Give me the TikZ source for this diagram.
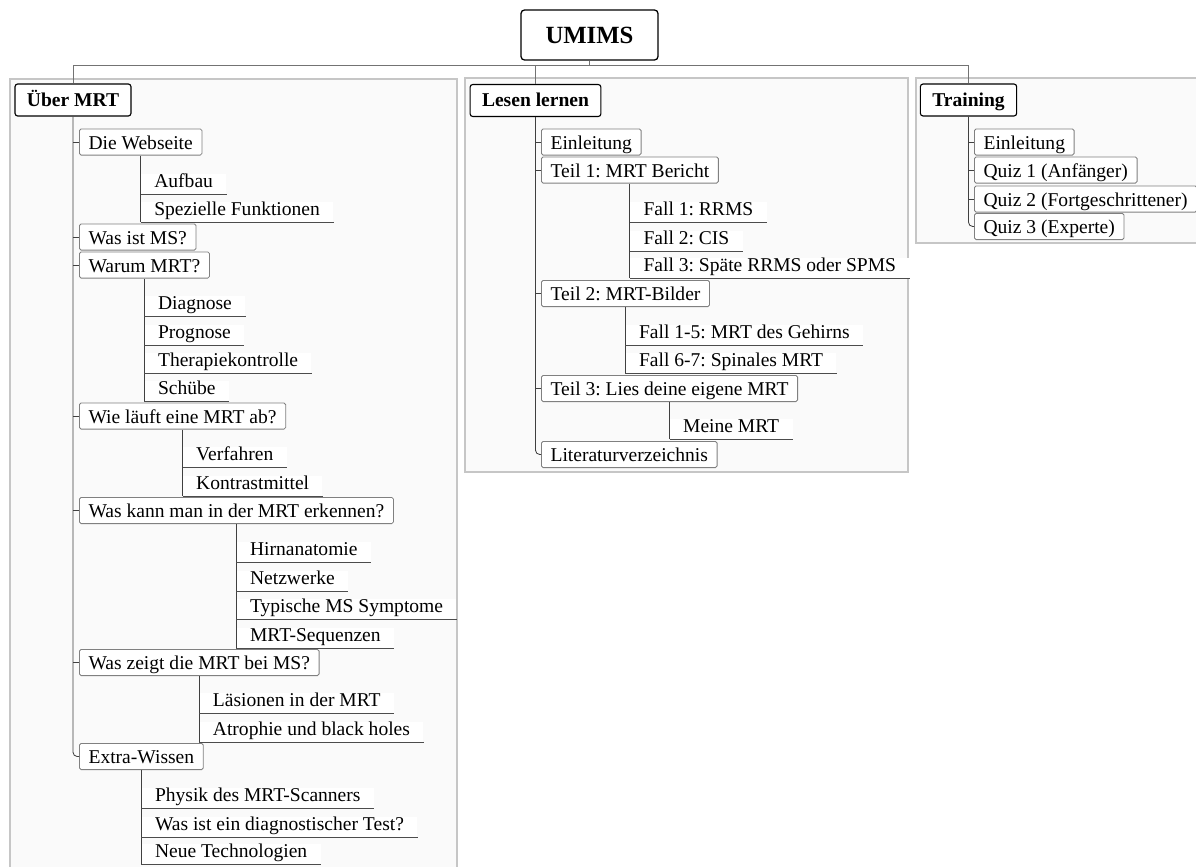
\documentclass[tikz,border=0pt]{standalone}
\usepackage{fontspec}
\setmainfont{Liberation Serif}
\usepackage{tikz}
\usetikzlibrary{positioning}
\definecolor{framefill}{HTML}{FAFAFA}
\definecolor{framedraw}{HTML}{C6C6C6}
\definecolor{boxdraw}{HTML}{808080}

\begin{document}
\frenchspacing
\fontsize{13.9}{16}\selectfont
\begin{tikzpicture}[
    x=0.025cm, y=-0.025cm,
    topbox/.style={rectangle, draw, rounded corners=2.5pt, line width=0.9pt, fill=white, minimum width=97.4pt, minimum height=35.6pt, text height=12pt, text depth=0.5pt, font=\fontsize{17.6}{20}\selectfont\bfseries},
    rootbox/.style={rectangle, draw, rounded corners=2pt, line width=0.8pt, fill=white, minimum height=22.8pt, inner xsep=8.5pt, text height=10.5pt, text depth=1.3pt, font=\bfseries},
    item/.style={rectangle, draw=boxdraw, rounded corners=1.2pt, line width=0.6pt, fill=white, anchor=west, inner xsep=6.5pt, inner ysep=2.2pt, text height=12.2pt, text depth=2pt},
    leaf/.style={rectangle, fill=white, anchor=south west, inner xsep=9.5pt, inner ysep=0pt, text height=10pt, text depth=4.3pt},
    frame/.style={draw=framedraw, fill=framefill, line width=1.3pt},
    link/.style={draw=black!75, line width=0.6pt},
    uline/.style={draw=black!70, line width=0.6pt},
    bar/.style={draw=black!55, line width=0.6pt},
]
    \useasboundingbox (0,0) rectangle (1196,867);
    \clip (0,0) rectangle (1196,867);

    % Frames
    \draw[frame] (10,79) rectangle (457,885);
    \draw[frame] (465,78) rectangle (908,472);
    \draw[frame] (916,78) rectangle (1215,243);

    % Top and roots
    \node[topbox] (umims) at (589.5,35) {UMIMS};
    \node[rootbox] (uber) at (73,100) {Über MRT};
    \node[rootbox] (lesen) at (535.5,100.5) {Lesen lernen};
    \node[rootbox] (train) at (968.5,100) {Training};

    % Über MRT branch
    \node[item] (web) at (79,142) {Die Webseite};
    \node[leaf] (aufbau) at (web.south |- 0,194) {Aufbau};
    \node[leaf] (spez) at (web.south |- 0,222) {Spezielle Funktionen};
    \node[item] (wasms) at (79,237) {Was ist MS?};
    \node[item] (warum) at (79,265) {Warum MRT?};
    \node[leaf] (diag) at (warum.south |- 0,316) {Diagnose};
    \node[leaf] (prog) at (warum.south |- 0,345) {Prognose};
    \node[leaf] (thera) at (warum.south |- 0,373) {Therapiekontrolle};
    \node[leaf] (schub) at (warum.south |- 0,401) {Schübe};
    \node[item] (ablauf) at (79,416) {Wie läuft eine MRT ab?};
    \node[leaf] (verf) at (ablauf.south |- 0,467) {Verfahren};
    \node[leaf] (kontr) at (ablauf.south |- 0,496) {Kontrastmittel};
    \node[item] (erkennen) at (79,510.5) {Was kann man in der MRT erkennen?};
    \node[leaf] (hirn) at (erkennen.south |- 0,562) {Hirnanatomie};
    \node[leaf] (netz) at (erkennen.south |- 0,591) {Netzwerke};
    \node[leaf] (sympt) at (erkennen.south |- 0,619) {Typische MS Symptome};
    \node[leaf] (sequ) at (erkennen.south |- 0,648) {MRT-Sequenzen};
    \node[item] (zeigt) at (79,662.5) {Was zeigt die MRT bei MS?};
    \node[leaf] (laes) at (zeigt.south |- 0,713) {Läsionen in der MRT};
    \node[leaf] (atro) at (zeigt.south |- 0,742) {Atrophie und black holes};
    \node[item] (extra) at (79,756.5) {Extra-Wissen};
    \node[leaf] (physik) at (extra.south |- 0,808) {Physik des MRT-Scanners};
    \node[leaf] (dtest) at (extra.south |- 0,837) {Was ist ein diagnostischer Test?};
    \node[leaf] (neue) at (extra.south |- 0,864) {Neue Technologien};

    % Lesen lernen branch
    \node[item] (einl) at (541,142) {Einleitung};
    \node[item] (teila) at (541,170) {Teil 1: MRT Bericht};
    \node[leaf] (falla) at (teila.south |- 0,222) {Fall 1: RRMS};
    \node[leaf] (fallb) at (teila.south |- 0,251) {Fall 2: CIS};
    \node[leaf] (fallc) at (teila.south |- 0,278) {Fall 3: Späte RRMS oder SPMS};
    \node[item] (teilb) at (541,293.5) {Teil 2: MRT-Bilder};
    \node[leaf] (gehirn) at (teilb.south |- 0,345) {Fall 1-5: MRT des Gehirns};
    \node[leaf] (spinal) at (teilb.south |- 0,373) {Fall 6-7: Spinales MRT};
    \node[item] (teilc) at (541,388.5) {Teil 3: Lies deine eigene MRT};
    \node[leaf] (meine) at (teilc.south |- 0,439) {Meine MRT};
    \node[item] (lit) at (541,454.5) {Literaturverzeichnis};

    % Training branch
    \node[item] (teinl) at (974,142) {Einleitung};
    \node[item] (quiza) at (974,170) {Quiz 1 (Anfänger)};
    \node[item] (quizb) at (974,199) {Quiz 2 (Fortgeschrittener)};
    \node[item] (quizc) at (974,226.5) {Quiz 3 (Experte)};

    % Top bar
    \coordinate (hub) at (umims.south |- 0,65);
    \draw[bar] (umims.south) -- (hub);
    \draw[bar] (uber.north) |- (train.north |- hub) -- (train.north);
    \draw[bar] (lesen.north) -- (lesen.north |- hub);

    % Spines
    \draw[link, rounded corners=3pt] (uber.south) |- (extra.west);
    \draw[link] (uber.south |- web.west) -- (web.west);
    \draw[link] (uber.south |- wasms.west) -- (wasms.west);
    \draw[link] (uber.south |- warum.west) -- (warum.west);
    \draw[link] (uber.south |- ablauf.west) -- (ablauf.west);
    \draw[link] (uber.south |- erkennen.west) -- (erkennen.west);
    \draw[link] (uber.south |- zeigt.west) -- (zeigt.west);

    \draw[link, rounded corners=3pt] (lesen.south) |- (lit.west);
    \draw[link] (lesen.south |- einl.west) -- (einl.west);
    \draw[link] (lesen.south |- teila.west) -- (teila.west);
    \draw[link] (lesen.south |- teilb.west) -- (teilb.west);
    \draw[link] (lesen.south |- teilc.west) -- (teilc.west);

    \draw[link, rounded corners=3pt] (train.south) |- (quizc.west);
    \draw[link] (train.south |- teinl.west) -- (teinl.west);
    \draw[link] (train.south |- quiza.west) -- (quiza.west);
    \draw[link] (train.south |- quizb.west) -- (quizb.west);

    % Sub lists
    \draw[link] (web.south) -- (spez.south west);
    \draw[link] (warum.south) -- (schub.south west);
    \draw[link] (ablauf.south) -- (kontr.south west);
    \draw[link] (erkennen.south) -- (sequ.south west);
    \draw[link] (zeigt.south) -- (atro.south west);
    \draw[link] (extra.south) -- (neue.south west);
    \draw[link] (teila.south) -- (fallc.south west);
    \draw[link] (teilb.south) -- (spinal.south west);
    \draw[link] (teilc.south) -- (meine.south west);

    % Underlines
    \draw[uline] (aufbau.south west) -- (aufbau.south east);
    \draw[uline] (spez.south west) -- (spez.south east);
    \draw[uline] (diag.south west) -- (diag.south east);
    \draw[uline] (prog.south west) -- (prog.south east);
    \draw[uline] (thera.south west) -- (thera.south east);
    \draw[uline] (schub.south west) -- (schub.south east);
    \draw[uline] (verf.south west) -- (verf.south east);
    \draw[uline] (kontr.south west) -- (kontr.south east);
    \draw[uline] (hirn.south west) -- (hirn.south east);
    \draw[uline] (netz.south west) -- (netz.south east);
    \draw[uline] (sympt.south west) -- (sympt.south east);
    \draw[uline] (sequ.south west) -- (sequ.south east);
    \draw[uline] (laes.south west) -- (laes.south east);
    \draw[uline] (atro.south west) -- (atro.south east);
    \draw[uline] (physik.south west) -- (physik.south east);
    \draw[uline] (dtest.south west) -- (dtest.south east);
    \draw[uline] (neue.south west) -- (neue.south east);
    \draw[uline] (falla.south west) -- (falla.south east);
    \draw[uline] (fallb.south west) -- (fallb.south east);
    \draw[uline] (fallc.south west) -- (fallc.south east);
    \draw[uline] (gehirn.south west) -- (gehirn.south east);
    \draw[uline] (spinal.south west) -- (spinal.south east);
    \draw[uline] (meine.south west) -- (meine.south east);
\end{tikzpicture}
\end{document}
